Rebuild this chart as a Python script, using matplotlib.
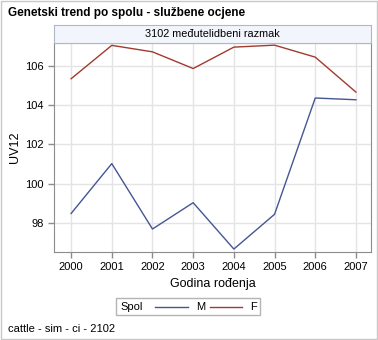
import matplotlib
matplotlib.use("Agg")
import matplotlib.pyplot as plt
from matplotlib.patches import Rectangle
from matplotlib.lines import Line2D

plt.rcParams["font.family"] = ["Liberation Sans", "DejaVu Sans"]

# Breeding value trend per sex
years = [2000, 2001, 2002, 2003, 2004, 2005, 2006, 2007]
uv_m = [98.48, 101.02, 97.69, 99.03, 96.67, 98.44, 104.36, 104.27]
uv_f = [105.34, 107.04, 106.71, 105.86, 106.95, 107.05, 106.44, 104.66]
yticks = [98, 100, 102, 104, 106]

color_m = "#445694"
color_f = "#A23A2E"
edge = "#8C8C8C"

W, H = 378, 340
fig = plt.figure(figsize=(W / 100, H / 100), dpi=100)
fig.patch.set_facecolor("white")


def fx(px):
    return px / W


def fy(py):
    return 1 - py / H


# outer frame
fig.add_artist(Rectangle((0.003, 0.003), 0.994, 0.994, transform=fig.transFigure,
                         fill=False, edgecolor="#C8C8C8", linewidth=1))

ax = fig.add_axes([fx(54), fy(252), 317 / W, 209 / H])
ax.plot(years, uv_m, color=color_m, linewidth=1)
ax.plot(years, uv_f, color=color_f, linewidth=1)

ax.set_xlim(1999.58, 2007.37)
ax.set_ylim(96.52, 107.16)
ax.set_xticks(years)
ax.set_yticks(yticks)
ax.grid(True, color="#E4E4E4", linewidth=1)
ax.set_axisbelow(True)
for s in ax.spines.values():
    s.set_color(edge)
ax.tick_params(colors=edge, labelcolor="black", labelsize=8, length=4, width=1)
ax.set_xlabel("Godina rođenja", fontsize=9, labelpad=4)
ax.set_ylabel("UV12", fontsize=9, labelpad=3)

# panel header strip
hdr = fig.add_axes([fx(54), fy(43), 317 / W, 18 / H])
hdr.set_facecolor("#F2F5FC")
hdr.set_xticks([])
hdr.set_yticks([])
for s in hdr.spines.values():
    s.set_color("#B0B8C8")
hdr.text(0.5, 0.5, "3102 međutelidbeni razmak", ha="center", va="center", fontsize=7.8)

fig.text(fx(8), fy(13), "Genetski trend po spolu - službene ocjene",
         fontsize=8.5, fontweight="bold", va="center", ha="left")

# legend box: title and entries on one row
fig.add_artist(Rectangle((fx(116), fy(315)), (260 - 116) / W, (315 - 298) / H,
                         transform=fig.transFigure, facecolor="white",
                         edgecolor="#B4B4B4", linewidth=1))
ly = fy(307)
fig.text(fx(120), ly, "Spol", fontsize=8, va="center", ha="left")
fig.add_artist(Line2D([fx(155), fx(188)], [ly, ly], transform=fig.transFigure,
                      color=color_m, linewidth=1))
fig.text(fx(196), ly, "M", fontsize=8, va="center", ha="left")
fig.add_artist(Line2D([fx(210), fx(242)], [ly, ly], transform=fig.transFigure,
                      color=color_f, linewidth=1))
fig.text(fx(250), ly, "F", fontsize=8, va="center", ha="left")

fig.text(fx(8), fy(329), "cattle - sim - ci - 2102", fontsize=8,
         va="center", ha="left")

fig.savefig("out.png", dpi=100)
